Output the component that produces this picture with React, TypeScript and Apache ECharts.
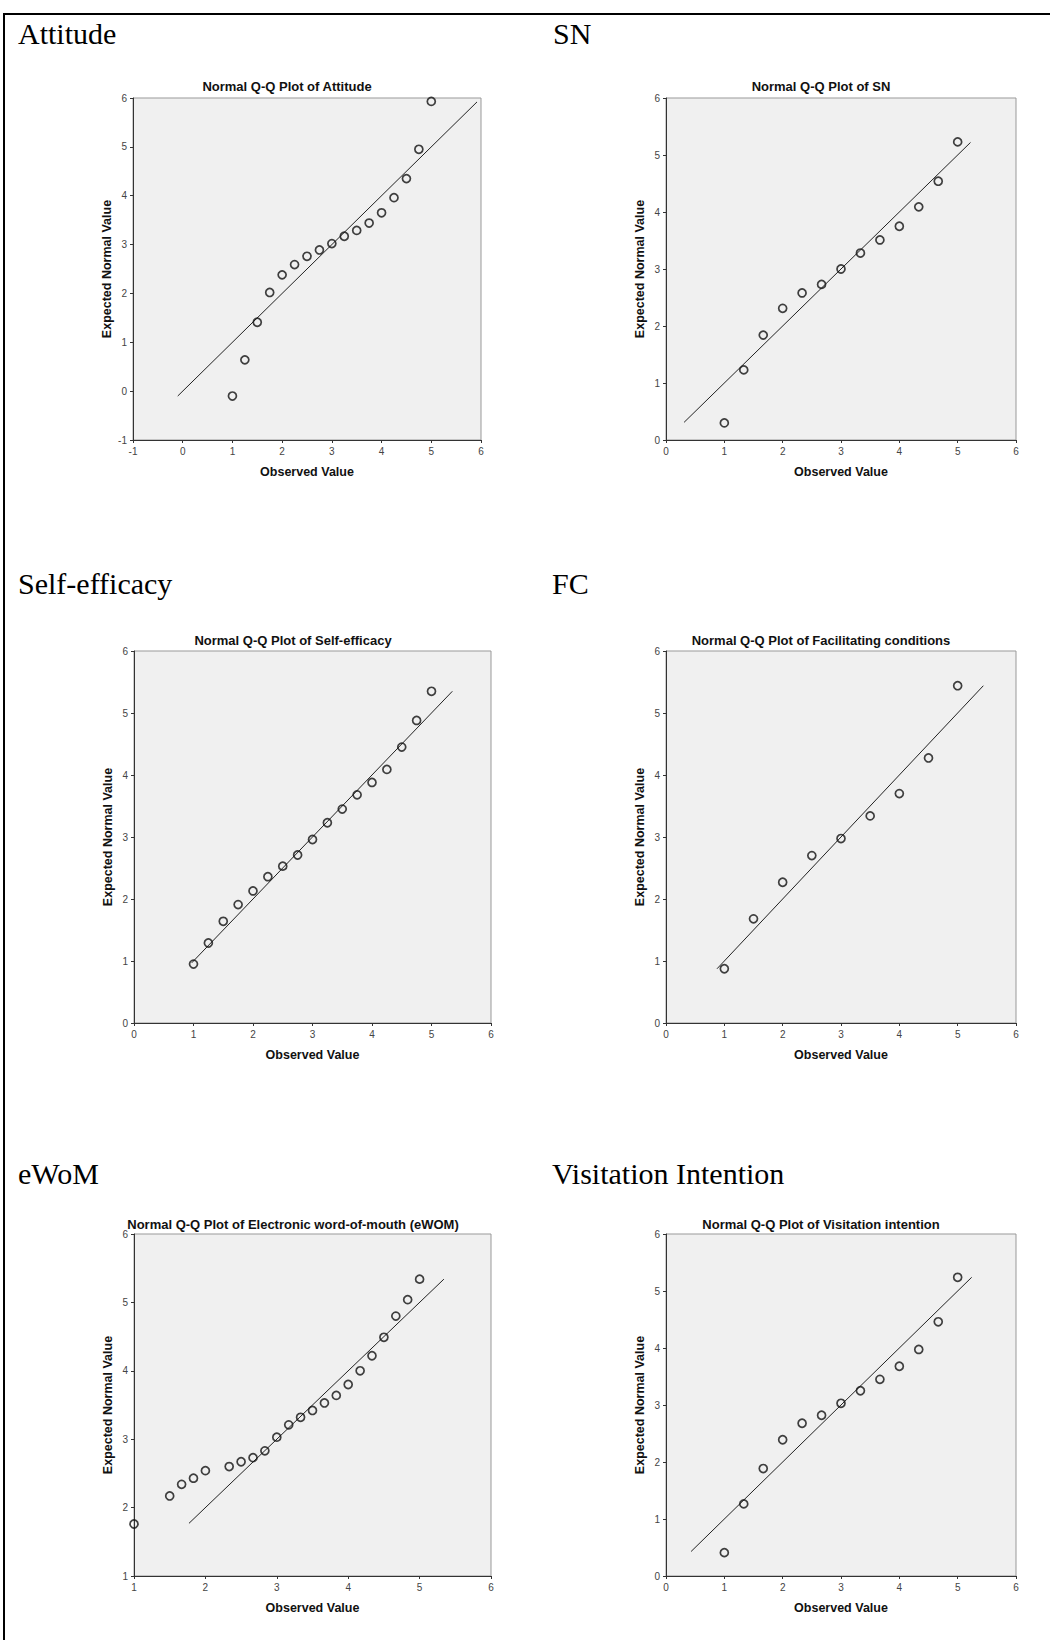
import React, { useEffect, useRef } from "react";
import * as echarts from "echarts";

// ---------- DATA ----------
const attitudeObserved = [1, 1.25, 1.5, 1.75, 2, 2.25, 2.5, 2.75, 3, 3.25, 3.5, 3.75, 4, 4.25, 4.5, 4.75, 5];
const attitudeExpected = [-0.1, 0.64, 1.41, 2.02, 2.38, 2.59, 2.76, 2.89, 3.02, 3.17, 3.29, 3.44, 3.65, 3.96, 4.35, 4.95, 5.93];
const attitudeLine = [-0.1, 5.92];

const snObserved = [1, 1.333, 1.667, 2, 2.333, 2.667, 3, 3.333, 3.667, 4, 4.333, 4.667, 5];
const snExpected = [0.3, 1.23, 1.84, 2.31, 2.58, 2.73, 3.0, 3.28, 3.51, 3.75, 4.09, 4.54, 5.23];
const snLine = [0.31, 5.22];

const selfEfficacyObserved = [1, 1.25, 1.5, 1.75, 2, 2.25, 2.5, 2.75, 3, 3.25, 3.5, 3.75, 4, 4.25, 4.5, 4.75, 5];
const selfEfficacyExpected = [0.95, 1.29, 1.64, 1.91, 2.13, 2.36, 2.53, 2.71, 2.96, 3.23, 3.45, 3.68, 3.88, 4.09, 4.45, 4.88, 5.35];
const selfEfficacyLine = [0.97, 5.35];

const fcObserved = [1, 1.5, 2, 2.5, 3, 3.5, 4, 4.5, 5];
const fcExpected = [0.875, 1.68, 2.27, 2.7, 2.975, 3.34, 3.7, 4.275, 5.44];
const fcLine = [0.875, 5.44];

const ewomObserved = [1, 1.5, 1.667, 1.833, 2, 2.333, 2.5, 2.667, 2.833, 3, 3.167, 3.333, 3.5, 3.667, 3.833, 4, 4.167, 4.333, 4.5, 4.667, 4.833, 5];
const ewomExpected = [1.76, 2.17, 2.34, 2.43, 2.54, 2.6, 2.67, 2.73, 2.83, 3.03, 3.21, 3.32, 3.42, 3.53, 3.64, 3.8, 4.0, 4.22, 4.49, 4.8, 5.04, 5.34];
const ewomLine = [1.77, 5.34];

const viObserved = [1, 1.333, 1.667, 2, 2.333, 2.667, 3, 3.333, 3.667, 4, 4.333, 4.667, 5];
const viExpected = [0.41, 1.265, 1.885, 2.39, 2.68, 2.82, 3.03, 3.25, 3.45, 3.68, 3.975, 4.46, 5.24];
const viLine = [0.43, 5.24];

const sectionLabels = ["Attitude", "SN", "Self-efficacy", "FC", "eWoM", "Visitation Intention"];
const plotTitles = [
  "Normal Q-Q Plot of Attitude",
  "Normal Q-Q Plot of SN",
  "Normal Q-Q Plot of Self-efficacy",
  "Normal Q-Q Plot of Facilitating conditions",
  "Normal Q-Q Plot of Electronic word-of-mouth (eWOM)",
  "Normal Q-Q Plot of Visitation intention",
];
const axisMins = [-1, 0, 0, 0, 1, 0];
const axisMaxs = [6, 6, 6, 6, 6, 6];
const xAxisName = "Observed Value";
const yAxisName = "Expected Normal Value";

const observedSets = [attitudeObserved, snObserved, selfEfficacyObserved, fcObserved, ewomObserved, viObserved];
const expectedSets = [attitudeExpected, snExpected, selfEfficacyExpected, fcExpected, ewomExpected, viExpected];
const lineSets = [attitudeLine, snLine, selfEfficacyLine, fcLine, ewomLine, viLine];

// ---------- LAYOUT ----------
const grids = [
  { left: 133, top: 98, width: 348, height: 342 },
  { left: 666, top: 98, width: 350, height: 342 },
  { left: 134, top: 651, width: 357, height: 372 },
  { left: 666, top: 651, width: 350, height: 372 },
  { left: 134, top: 1234, width: 357, height: 342 },
  { left: 666, top: 1234, width: 350, height: 342 },
];
const titlePos = [
  { x: 287, y: 86 },
  { x: 821, y: 86 },
  { x: 293, y: 640 },
  { x: 821, y: 640 },
  { x: 293, y: 1224 },
  { x: 821, y: 1224 },
];
const labelPos = [
  { x: 18, y: 33 },
  { x: 553, y: 33 },
  { x: 18, y: 583 },
  { x: 552, y: 583 },
  { x: 18, y: 1173 },
  { x: 552, y: 1173 },
];

const SANS = "'Liberation Sans', Arial, sans-serif";
const SERIF = "'Liberation Serif', 'Times New Roman', serif";

export default function App() {
  const ref = useRef<HTMLDivElement>(null);

  useEffect(() => {
    if (!ref.current) return;
    const chart = echarts.init(ref.current, undefined, { renderer: "svg" });

    const gridOpts = grids.map((g) => ({
      ...g,
      show: true,
      backgroundColor: "#f0f0f0",
      borderColor: "#999",
      borderWidth: 1,
      containLabel: false,
      outerBoundsMode: "none",
    }));

    const axisCommon = (i: number) => ({
      gridIndex: i,
      type: "value",
      min: axisMins[i],
      max: axisMaxs[i],
      interval: 1,
      nameLocation: "middle",
      nameTextStyle: { fontFamily: SANS, fontWeight: "bold", fontSize: 12.5, color: "#111" },
      axisLine: { show: true, onZero: false, lineStyle: { color: "#333", width: 1 } },
      axisTick: { show: true, length: 3, lineStyle: { color: "#333" } },
      splitLine: { show: false },
    });

    const xAxes = grids.map((_, i) => ({
      ...axisCommon(i),
      name: xAxisName,
      nameGap: 25,
      axisLabel: { fontSize: 10, color: "#444", margin: 6, fontFamily: SANS },
    }));
    const yAxes = grids.map((_, i) => ({
      ...axisCommon(i),
      name: yAxisName,
      nameRotate: 90,
      nameGap: 20,
      axisLabel: { fontSize: 10, color: "#444", margin: 6, fontFamily: SANS },
    }));

    const series: any[] = [];
    grids.forEach((_, i) => {
      series.push({
        type: "line",
        xAxisIndex: i,
        yAxisIndex: i,
        data: lineSets[i].map((v) => [v, v]),
        symbol: "none",
        lineStyle: { color: "#222", width: 1 },
        silent: true,
        z: 2,
      });
      series.push({
        type: "scatter",
        xAxisIndex: i,
        yAxisIndex: i,
        data: observedSets[i].map((x, j) => [x, expectedSets[i][j]]),
        symbol: "circle",
        symbolSize: 8,
        itemStyle: { color: "rgba(0,0,0,0)", borderColor: "#111", borderWidth: 1.7 },
        z: 3,
      });
    });

    const graphics: any[] = [
      { type: "line", shape: { x1: 3, y1: 14, x2: 1050, y2: 14 }, style: { stroke: "#000", lineWidth: 2 } },
      { type: "line", shape: { x1: 4, y1: 13, x2: 4, y2: 1640 }, style: { stroke: "#000", lineWidth: 2 } },
    ];
    sectionLabels.forEach((t, i) => {
      graphics.push({
        type: "text",
        x: labelPos[i].x,
        y: labelPos[i].y,
        style: { text: t, font: `30px ${SERIF}`, fill: "#000", textAlign: "left", textVerticalAlign: "middle" },
      });
    });
    plotTitles.forEach((t, i) => {
      graphics.push({
        type: "text",
        x: titlePos[i].x,
        y: titlePos[i].y,
        style: { text: t, font: `bold 13px ${SANS}`, fill: "#111", textAlign: "center", textVerticalAlign: "middle" },
      });
    });

    chart.setOption({
      animation: false,
      backgroundColor: "#fff",
      grid: gridOpts,
      xAxis: xAxes,
      yAxis: yAxes,
      series,
      graphic: graphics,
    });

    return () => chart.dispose();
  }, []);

  return (
    <div
      ref={ref}
      style={{ position: "absolute", left: 0, top: 0, width: 1050, height: 1640 }}
    />
  );
}
